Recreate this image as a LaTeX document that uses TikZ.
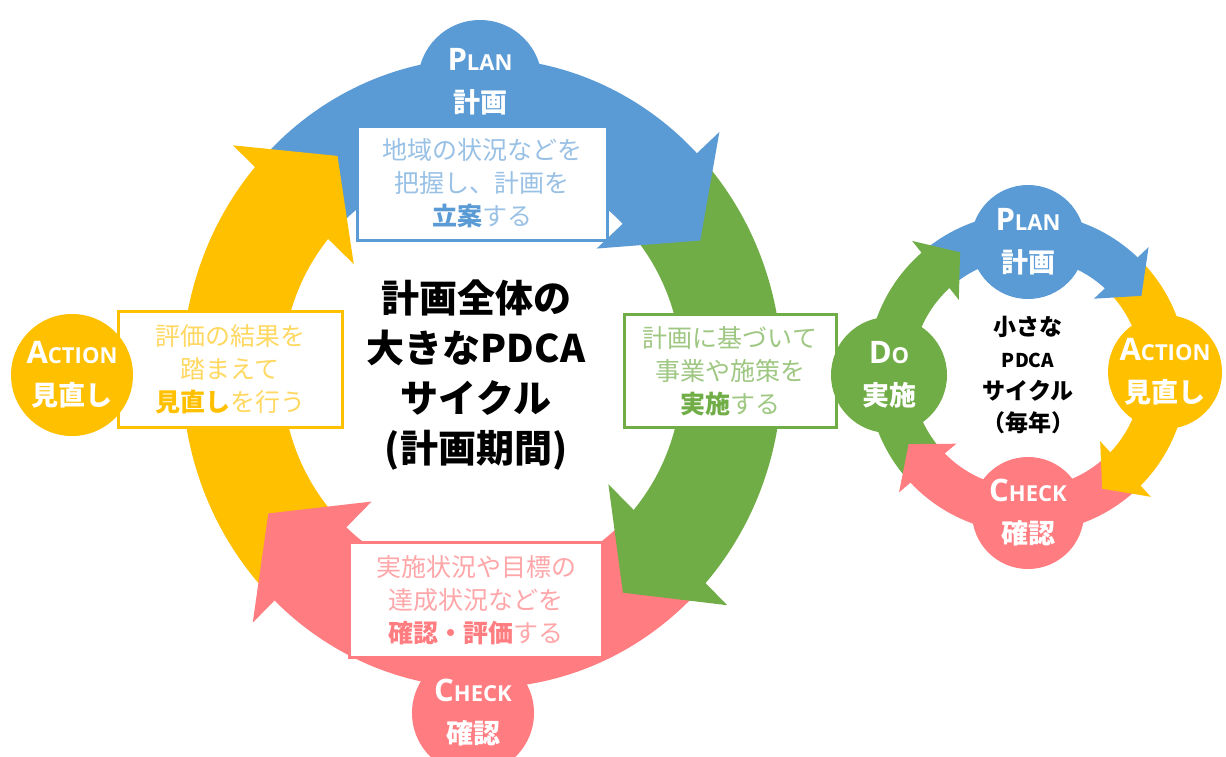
\documentclass[tikz,border=0pt]{standalone}
\usepackage{fontspec}
\setmainfont{Noto Sans CJK JP}
\newfontfamily\latf{Open Sans}
\definecolor{cblue}{HTML}{5B9BD5}
\definecolor{cgreen}{HTML}{70AD47}
\definecolor{cyellow}{HTML}{FFC000}
\definecolor{cpink}{HTML}{FF7C80}
\newcommand\capsl[2]{{\latf\bfseries\fontsize{31}{31}\selectfont #1\fontsize{22}{22}\selectfont #2}}
% big ring: outer 300/315, inner 200/210 (band runs a little into its head)
\newcommand\bigband[3]{\fill[#1] (#2:300 and 315) arc[start angle=#2, end angle={#3+3}, x radius=300, y radius=315] -- ({#3+3}:200 and 210) arc[start angle={#3+3}, end angle=#2, x radius=200, y radius=210] -- cycle;}
\newcommand\bighead[2]{\fill[#1] ({#2-1}:165 and 173) -- ({#2+15}:252 and 265) -- ({#2+1}:330 and 347) -- cycle;}
% small ring: outer 160, inner 115
\newcommand\smallband[3]{\fill[#1] (#2:160) arc[start angle=#2, end angle={#3+3}, radius=160] -- ({#3+3}:115) arc[start angle={#3+3}, end angle=#2, radius=115] -- cycle;}
\newcommand\smallhead[2]{\fill[#1] ({#2-1}:100) -- ({#2+13}:138) -- ({#2+1}:175) -- cycle;}
\tikzset{
  boxst/.style={draw, fill=white, line width=3pt, inner sep=0pt, align=center, font=\fontsize{25}{33}\selectfont},
  circst/.style={circle, inner sep=0pt, text=white, align=center, font=\bfseries\fontsize{27}{42}\selectfont},
  centertext/.style={align=center, text=black},
}
\begin{document}
\begin{tikzpicture}[x=1pt,y=-1pt]
\useasboundingbox (0,0) rectangle (1226,756);
\fill[white] (0,0) rectangle (1226,756);
% ---- big cycle arrows ----
\begin{scope}[shift={(482,373)}]
  \bigband{cblue}{222}{315}
  \bigband{cgreen}{317}{401}
  \bigband{cpink}{43}{133}
  \bigband{cyellow}{135}{220}
  \bighead{cblue}{315}
  \bighead{cgreen}{401}
  \bighead{cpink}{133}
  \bighead{cyellow}{220}
\end{scope}
% ---- small cycle arrows ----
\begin{scope}[shift={(1027,373)}]
  \smallband{cblue}{230}{313}
  \smallband{cyellow}{315}{404}
  \smallband{cpink}{46}{136}
  \smallband{cgreen}{138}{228}
  \smallhead{cblue}{313}
  \smallhead{cyellow}{404}
  \smallhead{cpink}{136}
  \smallhead{cgreen}{228}
\end{scope}
% ---- big cycle circles under boxes ----
\node[circst, fill=cblue, minimum size=124] (bplan) at (480,82) {\capsl{P}{LAN}\\計画};
\node[circst, fill=cpink, minimum size=122] (bcheck) at (473,713) {\capsl{C}{HECK}\\確認};
% ---- boxes ----
\node[boxst, draw=cblue, text=cblue!62!white, minimum width=250, minimum height=114] (boxplan) at (482,183)
  {地域の状況などを\\把握し、計画を\\{\bfseries\color{cblue}立案}する};
\node[boxst, draw=cgreen, text=cgreen!68!white, minimum width=212, minimum height=113] (boxdo) at (730,371)
  {計画に基づいて\\事業や施策を\\{\bfseries\color{cgreen}実施}する};
\node[boxst, draw=cyellow, text=cyellow!62!white, minimum width=224, minimum height=116] (boxact) at (230,369)
  {評価の結果を\\踏まえて\\{\bfseries\color{cyellow}見直し}を行う};
\node[boxst, draw=cpink, text=cpink!68!white, minimum width=253, minimum height=115] (boxcheck) at (476,600)
  {実施状況や目標の\\達成状況などを\\{\bfseries\color{cpink}確認・評価}する};
\node[circst, fill=cyellow, minimum size=122] (bact) at (72,375) {\capsl{A}{CTION}\\見直し};
% ---- small cycle circles ----
\node[circst, fill=cblue, minimum size=114] (splan) at (1028,242) {\capsl{P}{LAN}\\計画};
\node[circst, fill=cyellow, minimum size=114] (sact) at (1165,372) {\capsl{A}{CTION}\\見直し};
\node[circst, fill=cpink, minimum size=112] (scheck) at (1028,513) {\capsl{C}{HECK}\\確認};
\node[circst, fill=cgreen, minimum size=116] (sdo) at (889,375) {\capsl{D}{O}\\実施};
% ---- centre texts ----
\node[centertext, font=\bfseries\fontsize{38}{50}\selectfont] (bigc) at (476,375)
  {計画全体の\\大きなPDCA\\サイクル\\(計画期間)};
\node[centertext, font=\bfseries\fontsize{23}{32}\selectfont] (smallc) at (1028,375)
  {小さな\\{\fontsize{19}{32}\selectfont PDCA}\\サイクル\\（毎年）};
\end{tikzpicture}
\end{document}
